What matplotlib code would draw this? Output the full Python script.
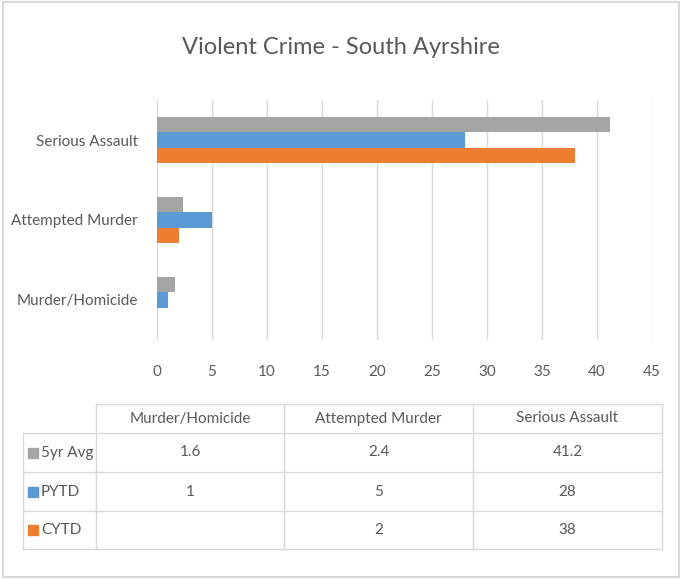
import matplotlib.pyplot as plt
from matplotlib.patches import Rectangle

categories = ["Murder/Homicide", "Attempted Murder", "Serious Assault"]
series = ["5yr Avg", "PYTD", "CYTD"]
avg_5yr = [1.6, 2.4, 41.2]
pytd = [1, 5, 28]
cytd = [None, 2, 38]
colors = ["#A5A5A5", "#5B9BD5", "#ED7D31"]

plt.rcParams["font.family"] = ["Lato", "DejaVu Sans"]
TXT = "#595959"
GRID = "#D9D9D9"
FS = 11

W, H = 682, 579
fig = plt.figure(figsize=(W / 100, H / 100), dpi=100)

# main bar chart
ax = fig.add_axes([157 / W, 1 - 340 / H, 495 / W, 240 / H])
bh = 0.19
offsets = [bh, 0, -bh]
for vals, col, off in zip([avg_5yr, pytd, cytd], colors, offsets):
    ys = [i + off for i, v in enumerate(vals) if v is not None]
    xs = [v for v in vals if v is not None]
    ax.barh(ys, xs, height=bh, color=col, zorder=3)

ax.set_xlim(0, 45)
ax.set_ylim(-0.5, 2.5)
ax.set_xticks(range(0, 46, 5))
ax.set_yticks(range(len(categories)))
ax.set_yticklabels(categories)
ax.tick_params(axis="both", length=0, labelsize=FS, colors=TXT)
ax.tick_params(axis="x", pad=18)
ax.tick_params(axis="y", pad=14)
ax.grid(axis="x", color=GRID, linewidth=1, zorder=0)
for s in ax.spines.values():
    s.set_visible(False)

# overlay for title, frame and data table (pixel coords)
ov = fig.add_axes([0, 0, 1, 1], zorder=-1)
ov.set_xlim(0, W)
ov.set_ylim(H, 0)
ov.axis("off")
ov.add_patch(Rectangle((3, 2), 676, 575, fill=False, edgecolor=GRID, linewidth=1.5))
ov.text(341, 47, "Violent Crime - South Ayrshire", ha="center", va="center",
        fontsize=17, color=TXT)

col_x = [23, 96, 284, 473, 662]
row_y = [404, 433, 472, 511, 549]
lw = 1
# header row (no left corner cell)
ov.plot([col_x[1], col_x[-1]], [row_y[0], row_y[0]], color=GRID, lw=lw)
for y in row_y[1:]:
    ov.plot([col_x[0], col_x[-1]], [y, y], color=GRID, lw=lw)
ov.plot([col_x[0], col_x[0]], [row_y[1], row_y[-1]], color=GRID, lw=lw)
for x in col_x[1:]:
    ov.plot([x, x], [row_y[0], row_y[-1]], color=GRID, lw=lw)

for j, cat in enumerate(categories):
    cx = (col_x[j + 1] + col_x[j + 2]) / 2
    ov.text(cx, (row_y[0] + row_y[1]) / 2, cat, ha="center", va="center",
            fontsize=FS, color=TXT)

for i, (name, vals, col) in enumerate(zip(series, [avg_5yr, pytd, cytd], colors)):
    cy = (row_y[i + 1] + row_y[i + 2]) / 2
    ov.add_patch(Rectangle((28, cy - 5), 10, 10, color=col))
    ov.text(41, cy, name, ha="left", va="center", fontsize=FS, color=TXT)
    for j, v in enumerate(vals):
        if v is None:
            continue
        cx = (col_x[j + 1] + col_x[j + 2]) / 2
        ov.text(cx, cy, f"{v:g}", ha="center", va="center", fontsize=FS, color=TXT)

fig.savefig("out.png", dpi=100)
